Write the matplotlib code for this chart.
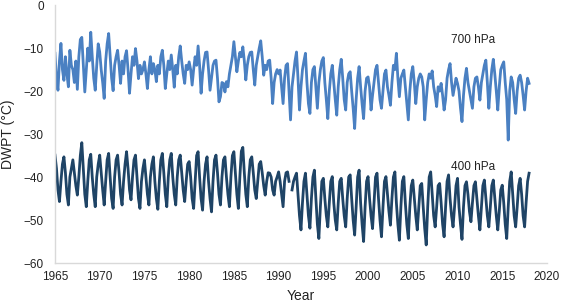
import numpy as np
import matplotlib
matplotlib.use("Agg")
import matplotlib.pyplot as plt

plt.rcParams['font.family'] = ['Liberation Sans', 'DejaVu Sans']

# bi-monthly dewpoint values (Jan, Mar, May, Jul, Sep, Nov) per year, 1965-2017, plus Jan 2018
dwpt_700 = [
    -11.2, -17.0, -19.8, -13.0, -8.9, -15.0,   # 1965
    -17.5, -12.0, -16.0, -19.0, -10.5, -14.0,  # 1966
    -15.0, -18.0, -13.0, -19.6, -12.0, -8.0,   # 1967
    -7.5, -14.0, -20.2, -15.0, -10.0, -13.0,   # 1968
    -6.3, -12.0, -17.0, -19.8, -14.0, -9.0,    # 1969
    -10.9, -15.0, -18.0, -21.7, -13.0, -9.0,   # 1970
    -6.6, -12.0, -17.0, -19.9, -14.0, -12.0,   # 1971
    -10.5, -14.0, -18.2, -13.0, -16.0, -12.0,  # 1972
    -10.6, -15.0, -20.5, -16.0, -12.0, -14.0,  # 1973
    -10.1, -13.0, -17.1, -14.0, -16.0, -15.0,  # 1974
    -13.2, -16.0, -19.4, -15.0, -12.0, -16.0,  # 1975
    -13.6, -15.0, -17.8, -14.0, -16.0, -12.0,  # 1976
    -10.5, -14.0, -19.4, -16.0, -13.0, -15.0,  # 1977
    -11.6, -15.0, -19.1, -14.0, -16.0, -12.0,  # 1978
    -9.5, -13.0, -16.0, -18.2, -14.0, -15.0,   # 1979
    -13.2, -15.0, -18.6, -15.0, -12.0, -14.0,  # 1980
    -9.5, -14.0, -20.5, -16.0, -13.0, -11.0,   # 1981
    -10.9, -15.0, -19.8, -17.0, -14.0, -13.0,  # 1982
    -12.8, -17.0, -22.5, -21.3, -18.0, -18.2,  # 1983
    -20.2, -17.8, -19.0, -16.0, -14.0, -12.0,  # 1984
    -8.5, -12.0, -15.5, -13.0, -11.0, -12.0,   # 1985
    -9.7, -13.0, -17.4, -14.0, -12.0, -11.0,   # 1986
    -10.9, -15.0, -18.6, -14.0, -12.0, -10.0,  # 1987
    -8.3, -12.0, -16.3, -14.0, -15.0, -13.0,   # 1988
    -12.8, -17.0, -22.9, -18.0, -16.0, -15.0,  # 1989
    -16.0, -15.1, -19.0, -22.9, -17.0, -14.0,  # 1990
    -13.6, -20.0, -26.7, -19.0, -16.0, -13.0,  # 1991
    -10.9, -17.0, -24.4, -19.0, -15.0, -13.0,  # 1992
    -11.2, -18.0, -22.9, -25.2, -18.0, -15.0,  # 1993
    -14.3, -19.0, -24.0, -18.0, -15.0, -13.0,  # 1994
    -12.2, -18.0, -22.0, -26.4, -20.0, -16.0,  # 1995
    -14.0, -18.0, -22.0, -25.6, -19.0, -15.0,  # 1996
    -12.6, -17.0, -22.0, -24.4, -18.0, -16.0,  # 1997
    -15.5, -20.0, -24.0, -28.7, -22.0, -17.0,  # 1998
    -14.3, -19.0, -23.0, -26.4, -20.0, -17.0,  # 1999
    -16.7, -19.0, -24.4, -21.0, -18.0, -15.0,  # 2000
    -14.0, -18.0, -22.0, -24.0, -20.0, -16.0,  # 2001
    -15.1, -19.0, -21.0, -23.3, -18.0, -14.0,  # 2002
    -15.0, -11.2, -17.0, -21.3, -17.0, -16.0,  # 2003
    -15.1, -19.0, -23.0, -26.7, -20.0, -16.0,  # 2004
    -14.3, -18.0, -22.9, -19.0, -17.0, -16.0,  # 2005
    -16.7, -19.0, -26.7, -22.0, -18.0, -16.0,  # 2006
    -17.0, -15.3, -19.0, -21.0, -23.6, -19.0,  # 2007
    -20.0, -18.2, -21.0, -24.4, -22.0, -17.0,  # 2008
    -15.0, -13.6, -18.0, -21.0, -19.0, -17.0,  # 2009
    -18.2, -20.0, -24.0, -27.1, -21.0, -17.0,  # 2010
    -14.7, -18.0, -20.0, -22.0, -24.0, -19.0,  # 2011
    -17.0, -16.7, -19.0, -22.1, -18.0, -16.0,  # 2012
    -14.0, -12.8, -18.0, -24.0, -19.0, -15.0,  # 2013
    -12.6, -16.0, -20.0, -24.4, -19.0, -15.0,  # 2014
    -14.0, -13.2, -18.0, -22.0, -31.4, -20.0,  # 2015
    -16.7, -18.0, -22.0, -25.2, -20.0, -17.0,  # 2016
    -16.3, -18.0, -21.0, -24.4, -20.0, -17.0,  # 2017
    -18.2,                                     # 2018
]

dwpt_400 = [
    -34.9, -38.0, -43.0, -45.7, -41.0, -37.0,  # 1965
    -35.3, -39.0, -44.0, -46.5, -40.0, -38.0,  # 1966
    -36.0, -39.0, -42.0, -44.2, -40.0, -35.0,  # 1967
    -32.0, -38.0, -44.0, -46.9, -41.0, -36.0,  # 1968
    -34.7, -40.0, -44.0, -46.9, -40.0, -37.0,  # 1969
    -34.9, -39.0, -43.0, -46.5, -41.0, -36.0,  # 1970
    -34.5, -40.0, -45.0, -47.3, -40.0, -36.0,  # 1971
    -34.9, -39.0, -44.0, -46.5, -41.0, -37.0,  # 1972
    -34.1, -38.0, -43.0, -45.3, -40.0, -36.0,  # 1973
    -34.9, -40.0, -45.0, -47.3, -41.0, -38.0,  # 1974
    -36.0, -40.0, -44.0, -46.5, -40.0, -37.0,  # 1975
    -35.3, -41.0, -45.0, -47.5, -41.0, -36.0,  # 1976
    -34.5, -39.0, -44.0, -46.9, -40.0, -36.0,  # 1977
    -34.5, -40.0, -44.0, -46.5, -40.0, -36.0,  # 1978
    -34.9, -39.0, -43.0, -45.7, -41.0, -37.0,  # 1979
    -36.4, -40.0, -45.0, -47.3, -41.0, -35.0,  # 1980
    -34.1, -40.0, -45.0, -47.7, -41.0, -37.0,  # 1981
    -35.3, -41.0, -45.0, -48.1, -41.0, -36.0,  # 1982
    -34.9, -39.0, -44.0, -46.5, -40.0, -36.0,  # 1983
    -35.3, -40.0, -44.0, -46.9, -40.0, -35.0,  # 1984
    -34.1, -39.0, -44.0, -47.3, -40.0, -34.0,  # 1985
    -33.1, -39.0, -44.0, -46.9, -40.0, -36.0,  # 1986
    -35.3, -39.0, -43.0, -45.0, -41.0, -37.0,  # 1987
    -36.4, -39.0, -42.0, -44.2, -41.0, -39.0,  # 1988
    -39.1, -40.0, -43.0, -44.2, -41.0, -40.0,  # 1989
    -38.8, -41.0, -44.0, -46.9, -41.0, -39.0,  # 1990
    -38.8, -41.0, np.nan, -43.0, -41.0, -40.0, # 1991
    -39.1, -44.0, -49.0, -52.3, -46.0, -41.0,  # 1992
    -39.1, -44.0, -49.0, -51.9, -45.0, -40.0,  # 1993
    -38.4, -45.0, -51.0, -54.3, -47.0, -41.0,  # 1994
    -40.3, -45.0, -49.0, -51.6, -46.0, -41.0,  # 1995
    -39.9, -46.0, -50.0, -52.3, -46.0, -41.0,  # 1996
    -40.3, -45.0, -49.0, -51.6, -45.0, -40.0,  # 1997
    -39.5, -45.0, -50.0, -53.5, -47.0, -40.0,  # 1998
    -38.4, -46.0, -51.0, -55.0, -47.0, -41.0,  # 1999
    -39.9, -45.0, -49.0, -52.0, -46.0, -40.0,  # 2000
    -39.1, -45.0, -50.0, -53.9, -47.0, -41.0,  # 2001
    -39.9, -44.0, -48.0, -51.2, -45.0, -40.0,  # 2002
    -38.8, -46.0, -51.0, -54.7, -47.0, -41.0,  # 2003
    -39.9, -46.0, -51.0, -54.3, -47.0, -42.0,  # 2004
    -40.7, -45.0, -49.0, -52.3, -47.0, -42.0,  # 2005
    -41.5, -47.0, -52.0, -55.8, -47.0, -40.0,  # 2006
    -38.8, -44.0, -49.0, -51.6, -47.0, -42.0,  # 2007
    -41.5, -46.0, -51.0, -53.9, -47.0, -41.0,  # 2008
    -39.5, -45.0, -49.0, -51.6, -47.0, -42.0,  # 2009
    -40.3, -47.0, -51.0, -54.5, -47.0, -42.0,  # 2010
    -41.1, -44.0, -48.0, -50.4, -46.0, -42.0,  # 2011
    -41.1, -45.0, -49.0, -52.3, -47.0, -42.0,  # 2012
    -40.7, -45.0, -49.0, -51.6, -47.0, -42.0,  # 2013
    -40.7, -45.0, -49.0, -52.3, -48.0, -43.0,  # 2014
    -41.9, -46.0, -51.0, -54.3, -47.0, -41.0,  # 2015
    -38.8, -44.0, -49.0, -51.6, -47.0, -42.0,  # 2016
    -40.3, -44.0, -49.0, -51.6, -46.0, -41.0,  # 2017
    -39.1,                                     # 2018
]

series_labels = ["700 hPa", "400 hPa"]
years = 1965 + np.arange(len(dwpt_700)) / 6.0

fig = plt.figure(figsize=(5.61, 3.03), dpi=100)
ax = fig.add_axes([0.098, 0.132, 0.877, 0.851])

ax.plot(years, dwpt_700, color='#4a80c2', lw=2.0, solid_joinstyle='round')
ax.plot(years, dwpt_400, color='#1f4466', lw=2.0, solid_joinstyle='round')

ax.text(2011.7, -8.1, series_labels[0], fontsize=8.5, ha='center', va='center', color='#222222')
ax.text(2011.7, -37.6, series_labels[1], fontsize=8.5, ha='center', va='center', color='#222222')

ax.set_xlim(1965, 2020)
ax.set_ylim(-60, 0)
ax.set_xticks(np.arange(1965, 2021, 5))
ax.set_yticks(np.arange(-60, 1, 10))
ax.tick_params(length=0, labelsize=8.5, colors='#222222')
ax.tick_params(axis='y', pad=8)
ax.tick_params(axis='x', pad=6)

for side in ['top', 'right']:
    ax.spines[side].set_visible(False)
for side in ['left', 'bottom']:
    ax.spines[side].set_color('#d9d9d9')
    ax.spines[side].set_linewidth(1.0)

ax.set_xlabel("Year", fontsize=10, color='#222222', labelpad=4)
ax.set_ylabel("DWPT (°C)", fontsize=10, color='#222222', labelpad=6)

fig.savefig("out.png", dpi=100)
